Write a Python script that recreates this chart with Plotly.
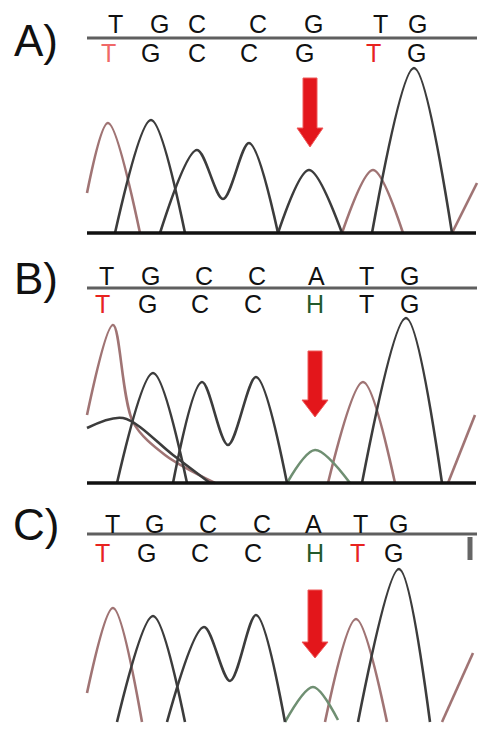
import plotly.graph_objects as go
from plotly.subplots import make_subplots

# sequencing traces; x = scan position, y = signal above baseline
panels = ["A)", "B)", "C)"]

a_black_x = [115, 151, 185, None, 160, 197, 223, 249, 278, None, 278, 309, 342, None, 372, 414, 452]
a_black_y = [0, 113, 0, None, 0, 83, 34, 90, 0, None, 0, 63, 0, None, 0, 165, 0]
a_pink_x = [87, 108, 140, None, 342, 373, 403, None, 452, 477]
a_pink_y = [40, 110, 0, None, 0, 63, 0, None, 0, 50]
a_green_x = []
a_green_y = []

b_black_x = [87, 123, 173, 210, None, 117, 153, 187, None, 173, 202, 228, 256, 287, None, 362, 406, 442]
b_black_y = [55, 65, 28, 0, None, 0, 110, 0, None, 0, 101, 38, 106, 0, None, 0, 165, 0]
b_pink_x = [87, 113, 133, 165, 215, None, 328, 363, 395, None, 448, 475]
b_pink_y = [68, 158, 61, 28, 0, None, 0, 101, 0, None, 0, 68]
b_green_x = [287, 315, 350]
b_green_y = [0, 33, 0]

c_black_x = [117, 153, 185, None, 167, 204, 230, 256, 285, None, 358, 399, 430]
c_black_y = [0, 106, 0, None, 0, 95, 41, 107, 0, None, 0, 153, 0]
c_pink_x = [87, 113, 142, None, 325, 356, 387, None, 442, 473]
c_pink_y = [29, 114, 0, None, 0, 103, 0, None, 0, 69]
c_green_x = [285, 313, 338]
c_green_y = [0, 35, 2]

# base calls: reference row (top) and sample row (bottom)
a_top = ["T", "G", "C", "C", "G", "T", "G"]
a_top_x = [115, 159, 197, 258, 313, 380, 417]
a_bot = ["T", "G", "C", "C", "G", "T", "G"]
a_bot_x = [108, 150, 197, 249, 304, 373, 416]
a_bot_col = ["#f06868", "#111", "#111", "#111", "#111", "#e8231f", "#111"]

b_top = ["T", "G", "C", "C", "A", "T", "G"]
b_top_x = [106, 150, 204, 257, 316, 366, 409]
b_bot = ["T", "G", "C", "C", "H", "T", "G"]
b_bot_x = [102, 147, 200, 253, 315, 366, 409]
b_bot_col = ["#e8231f", "#111", "#111", "#111", "#235a2c", "#111", "#111"]

c_top = ["T", "G", "C", "C", "A", "T", "G"]
c_top_x = [112, 154, 208, 262, 313, 360, 398]
c_bot = ["T", "G", "C", "C", "H", "T", "G"]
c_bot_x = [102, 146, 200, 253, 315, 357, 393]
c_bot_col = ["#e8231f", "#111", "#111", "#111", "#235a2c", "#e8231f", "#111"]

top_row_y = [209, 207, 198]
bot_row_y = [180, 179, 169]
ref_line_y = [195, 195, 188]
label_y = [193, 205, 198]
y_ranges = [[-12, 233], [-7, 238], [-13, 232]]
show_baseline = [True, True, False]

# red arrows marking the variant position
arrow_x = [310, 315, 315]
arrow_top = [155, 132, 132]
arrow_neck = [105, 83, 80]
arrow_tip = [86, 66, 64]

traces = [
    (a_black_x, a_black_y, a_pink_x, a_pink_y, a_green_x, a_green_y),
    (b_black_x, b_black_y, b_pink_x, b_pink_y, b_green_x, b_green_y),
    (c_black_x, c_black_y, c_pink_x, c_pink_y, c_green_x, c_green_y),
]
calls = [
    (a_top, a_top_x, a_bot, a_bot_x, a_bot_col),
    (b_top, b_top_x, b_bot, b_bot_x, b_bot_col),
    (c_top, c_top_x, c_bot, c_bot_x, c_bot_col),
]

FONT = "Liberation Sans, Arial, sans-serif"

fig = make_subplots(rows=3, cols=1, vertical_spacing=0)

for i in range(3):
    r = i + 1
    bx, by, px, py, gx, gy = traces[i]
    for xs, ys, col in [(px, py, "#a07474"), (gx, gy, "#6f8f72"), (bx, by, "#3c3c3c")]:
        if not xs:
            continue
        fig.add_trace(go.Scatter(x=xs, y=ys, mode="lines",
                                 line=dict(color=col, width=2.6, shape="spline", smoothing=0.9),
                                 connectgaps=False, showlegend=False, hoverinfo="skip"),
                      row=r, col=1)

    # reference line between the two rows of calls
    fig.add_shape(type="line", x0=87, x1=477, y0=ref_line_y[i], y1=ref_line_y[i],
                  line=dict(color="#5f5f5f", width=3), row=r, col=1)
    if show_baseline[i]:
        fig.add_shape(type="line", x0=87, x1=476, y0=0, y1=0,
                      line=dict(color="#111", width=3.5), row=r, col=1)

    top, top_x, bot, bot_x, bot_col = calls[i]
    for t, x in zip(top, top_x):
        fig.add_annotation(x=x, y=top_row_y[i], text=t, showarrow=False,
                           font=dict(family=FONT, size=25, color="#111"), row=r, col=1)
    for t, x, c in zip(bot, bot_x, bot_col):
        fig.add_annotation(x=x, y=bot_row_y[i], text=t, showarrow=False,
                           font=dict(family=FONT, size=25, color=c), row=r, col=1)

    fig.add_annotation(x=36, y=label_y[i], text=panels[i], showarrow=False,
                       font=dict(family=FONT, size=44, color="#111"), row=r, col=1)

    # arrow as a filled path
    ax, at, an, ap = arrow_x[i], arrow_top[i], arrow_neck[i], arrow_tip[i]
    sw, hw = 7, 13
    path = (f"M {ax-sw},{at} L {ax+sw},{at} L {ax+sw},{an} L {ax+hw},{an} "
            f"L {ax},{ap} L {ax-hw},{an} L {ax-sw},{an} Z")
    fig.add_shape(type="path", path=path, fillcolor="#e3161b",
                  line=dict(color="#ef5a5a", width=1), row=r, col=1)

    fig.update_yaxes(range=y_ranges[i], visible=False, row=r, col=1)
    fig.update_xaxes(range=[0, 500], visible=False, row=r, col=1)

# truncated call mark at the right end of panel C
fig.add_shape(type="line", x0=470, x1=470, y0=162, y1=185,
              line=dict(color="#666", width=5), row=3, col=1)

fig.update_layout(width=500, height=735, margin=dict(l=0, r=0, t=0, b=0),
                  paper_bgcolor="white", plot_bgcolor="white")

# drop the page's default body margin so the figure sits at the top-left corner
fig.write_html("out.html", config={"displayModeBar": False},
               post_script="document.body.style.margin='0';")
